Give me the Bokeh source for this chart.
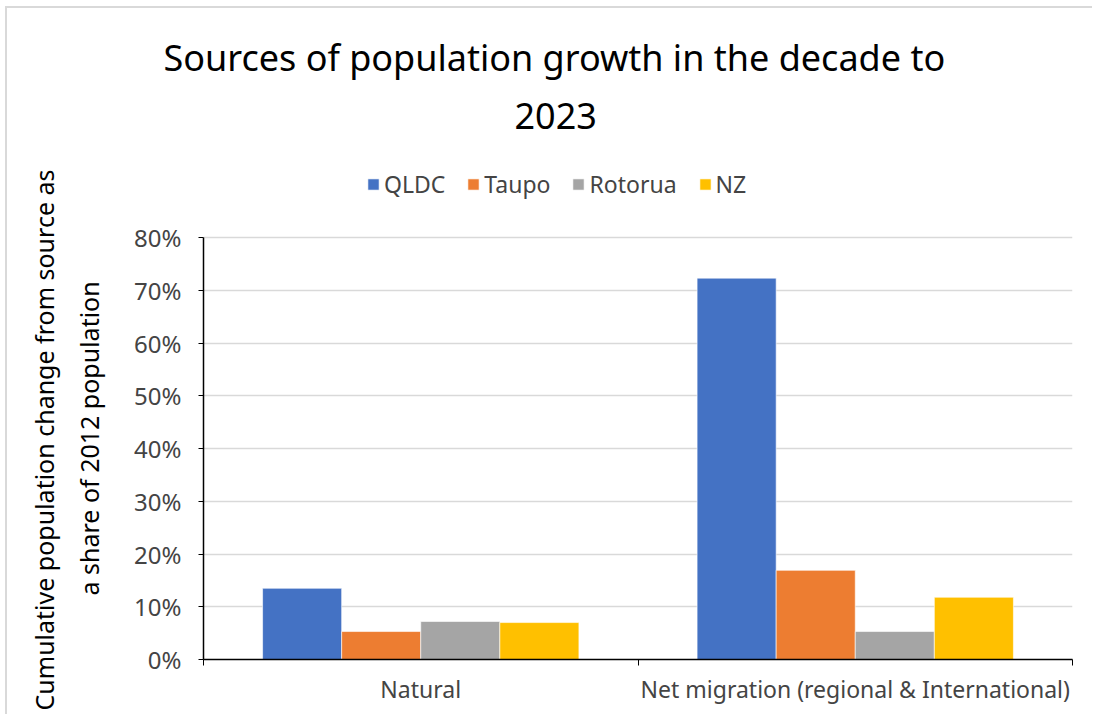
from bokeh.plotting import figure
from bokeh.models import (ColumnDataSource, FixedTicker, NumeralTickFormatter,
                          Legend, LegendItem, Range1d, Title)
from bokeh.embed import file_html
from bokeh.resources import INLINE

categories = ["Natural", "Net migration (regional & International)"]
series = ["QLDC", "Taupo", "Rotorua", "NZ"]
colors = ["#4472C4", "#ED7D31", "#A5A5A5", "#FFC000"]
qldc = [0.135, 0.723]
taupo = [0.053, 0.169]
rotorua = [0.072, 0.053]
nz = [0.070, 0.118]
values = [qldc, taupo, rotorua, nz]
y_ticks = [0, 0.1, 0.2, 0.3, 0.4, 0.5, 0.6, 0.7, 0.8]

TITLE_LINES = ["Sources of population growth in the decade to", "2023"]
YLABEL_LINES = ["Cumulative population change from source as", "a share of 2012 population"]
FONT = "Noto Sans"

Y_MAX = 0.8
Y_TOP = 0.946  # extra headroom inside the frame for the legend

p = figure(width=1087, height=708, output_backend="svg", toolbar_location=None,
           x_range=Range1d(0, len(categories)), y_range=Range1d(0, Y_TOP),
           min_border_left=196, min_border_right=22, min_border_bottom=57,
           min_border_top=152, title=None,
           styles={"border-top": "2px solid #d9d9d9",
                   "border-left": "2px solid #d9d9d9",
                   "margin-left": "5px", "margin-top": "6px"})

bar_w = 0.182
offsets = [(i - (len(series) - 1) / 2) * bar_w for i in range(len(series))]
renderers = []
for s, col, vals, off in zip(series, colors, values, offsets):
    src = ColumnDataSource(dict(x=[i + 0.5 + off for i in range(len(categories))], top=vals))
    r = p.vbar(x="x", top="top", width=bar_w, bottom=0, source=src,
               fill_color=col, line_color="white", line_width=0.6)
    renderers.append((s, r))

legend = Legend(items=[LegendItem(label=s, renderers=[r]) for s, r in renderers],
                orientation="horizontal", location=(163, 459))
legend.label_text_font = FONT
legend.label_text_font_size = "23px"
legend.glyph_width = 14
legend.glyph_height = 14
legend.label_standoff = 4
legend.spacing = 21
legend.border_line_color = None
legend.background_fill_alpha = 0
legend.margin = 0
legend.padding = 0
p.add_layout(legend, "center")

# title: two centred lines, centred on the whole chart area
for line, so, off in zip(reversed(TITLE_LINES), [64, -26], [311, -40]):
    t = Title(text=line, align="left", offset=off, text_font=FONT, text_font_size="36px",
              text_font_style="normal", text_color="black", standoff=so)
    p.add_layout(t, "above")

# y-axis label as two rotated lines, each centred on the 0-80% axis
for line, so, off in zip(reversed(YLABEL_LINES), [52, -35], [64, -51]):
    t = Title(text=line, align="left", offset=off, text_font=FONT, text_font_size="25px",
              text_font_style="normal", text_color="black", standoff=so)
    p.add_layout(t, "left")

# axes
p.yaxis.ticker = FixedTicker(ticks=y_ticks)
p.yaxis.bounds = (0, Y_MAX)
p.yaxis.formatter = NumeralTickFormatter(format="0%")
p.yaxis.major_label_text_font = FONT
p.yaxis.major_label_text_font_size = "24px"
p.yaxis.major_label_standoff = 17
p.yaxis.major_tick_in = 0
p.yaxis.major_tick_out = 5
p.yaxis.minor_tick_line_color = None
p.yaxis.axis_line_color = "black"
p.yaxis.axis_line_width = 1.5
p.yaxis.major_tick_line_color = "black"

centers = [i + 0.5 for i in range(len(categories))]
bounds = [float(i) for i in range(len(categories) + 1)]
p.xaxis.ticker = FixedTicker(ticks=centers, minor_ticks=bounds)
p.xaxis.major_label_overrides = {c: lab for c, lab in zip(centers, categories)}
p.xaxis.major_label_text_font = FONT
p.xaxis.major_label_text_font_size = "23px"
p.xaxis.major_label_standoff = 7
p.xaxis.major_tick_line_color = None
p.xaxis.minor_tick_in = 0
p.xaxis.minor_tick_out = 6
p.xaxis.minor_tick_line_color = "black"
p.xaxis.axis_line_color = "black"
p.xaxis.axis_line_width = 1.5

p.xgrid.grid_line_color = None
p.ygrid.grid_line_color = "#d9d9d9"
p.ygrid.grid_line_width = 1.5
p.outline_line_color = None

open("out.html", "w").write(file_html(p, INLINE))
